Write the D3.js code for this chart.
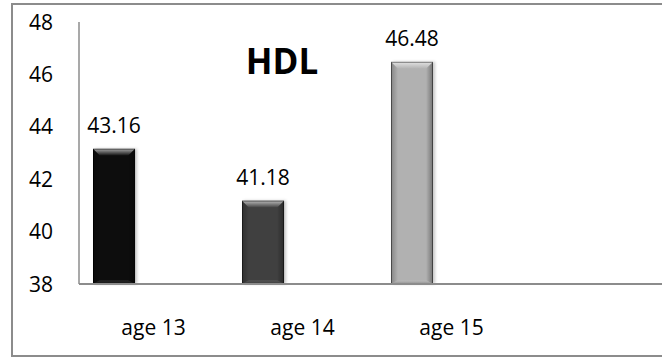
<!DOCTYPE html>
<html>
<head>
<meta charset="utf-8">
<script src="https://cdn.jsdelivr.net/npm/d3@7"></script>
<style>
  html, body { margin: 0; padding: 0; background: #fff; }
  svg { display: block; font-family: "Open Sans", "Noto Sans", sans-serif; }
</style>
</head>
<body>
<svg id="chart" width="662" height="358"></svg>
<script>
// HDL by age group
const categories = ["age 13", "age 14", "age 15"];
const values = [43.16, 41.18, 46.48];
const barColors = ["#070707", "#404040", "#b1b1b1"];
const yTicks = [38, 40, 42, 44, 46, 48];
const title = "HDL";

const svg = d3.select("#chart");
const defs = svg.append("defs");

const plot = { left: 79, top: 22, bottom: 284, right: 670 };

const y = d3.scaleLinear().domain([38, 48]).range([plot.bottom, plot.top]);
const x = d3.scaleBand().domain(categories).range([plot.left, plot.left + 3 * 149]);
const bw = x.bandwidth();
const barOffset = 0.094 * bw;
const barWidth = 0.282 * bw;

// outer frame
svg.append("rect")
  .attr("x", 12).attr("y", 4)
  .attr("width", 700).attr("height", 352)
  .attr("fill", "none").attr("stroke", "#8c8c8c").attr("stroke-width", 2);

// gradients for bevels
const topGrad = defs.append("linearGradient").attr("id", "bevelTop")
  .attr("x1", 0).attr("y1", 0).attr("x2", 0).attr("y2", 1);
topGrad.append("stop").attr("offset", 0).attr("stop-color", "#fff").attr("stop-opacity", 0.65);
topGrad.append("stop").attr("offset", 1).attr("stop-color", "#fff").attr("stop-opacity", 0.0);

const botGrad = defs.append("linearGradient").attr("id", "bevelBot")
  .attr("x1", 0).attr("y1", 1).attr("x2", 0).attr("y2", 0);
botGrad.append("stop").attr("offset", 0).attr("stop-color", "#000").attr("stop-opacity", 0.25);
botGrad.append("stop").attr("offset", 1).attr("stop-color", "#fff").attr("stop-opacity", 0.06);

const leftGrad = defs.append("linearGradient").attr("id", "bevelLeft")
  .attr("x1", 0).attr("y1", 0).attr("x2", 1).attr("y2", 0);
leftGrad.append("stop").attr("offset", 0).attr("stop-color", "#000").attr("stop-opacity", 0.25);
leftGrad.append("stop").attr("offset", 1).attr("stop-color", "#000").attr("stop-opacity", 0.0);

const rightGrad = defs.append("linearGradient").attr("id", "bevelRight")
  .attr("x1", 1).attr("y1", 0).attr("x2", 0).attr("y2", 0);
rightGrad.append("stop").attr("offset", 0).attr("stop-color", "#000").attr("stop-opacity", 0.35);
rightGrad.append("stop").attr("offset", 1).attr("stop-color", "#000").attr("stop-opacity", 0.0);

const shadow = defs.append("filter").attr("id", "barShadow")
  .attr("x", "-30%").attr("y", "-10%").attr("width", "160%").attr("height", "120%");
shadow.append("feDropShadow").attr("dx", 2).attr("dy", 0).attr("stdDeviation", 1.6)
  .attr("flood-color", "#000").attr("flood-opacity", 0.22);

// y axis
const yAxis = svg.append("g");
yAxis.append("line")
  .attr("x1", plot.left).attr("x2", plot.left)
  .attr("y1", y(48)).attr("y2", y(38))
  .attr("stroke", "#8c8c8c").attr("stroke-width", 1.5);
yAxis.selectAll("text").data(yTicks).join("text")
  .attr("x", 53).attr("y", d => y(d))
  .attr("dy", "0.36em")
  .attr("text-anchor", "end")
  .attr("font-size", 21)
  .attr("fill", "#000")
  .text(d => d);

// bars
const bars = svg.append("g").selectAll("g").data(categories).join("g");
bars.each(function (c, i) {
  const g = d3.select(this);
  const x0 = x(c) + barOffset;
  const x1 = x0 + barWidth;
  const y0 = y(values[i]);
  const y1 = y(38);
  const b = 7;
  const bb = 4;
  g.append("rect")
    .attr("x", x0).attr("y", y0)
    .attr("width", barWidth).attr("height", y1 - y0)
    .attr("fill", barColors[i])
    .attr("filter", "url(#barShadow)");
  g.append("path")
    .attr("d", `M${x0},${y0}L${x0 + b},${y0 + b}L${x0 + b},${y1 - bb}L${x0},${y1}Z`)
    .attr("fill", "url(#bevelLeft)");
  g.append("path")
    .attr("d", `M${x1},${y0}L${x1 - b},${y0 + b}L${x1 - b},${y1 - bb}L${x1},${y1}Z`)
    .attr("fill", "url(#bevelRight)");
  g.append("path")
    .attr("d", `M${x0},${y0}L${x1},${y0}L${x1 - b},${y0 + b}L${x0 + b},${y0 + b}Z`)
    .attr("fill", "url(#bevelTop)");
  g.append("path")
    .attr("d", `M${x0},${y1}L${x1},${y1}L${x1 - b},${y1 - bb}L${x0 + b},${y1 - bb}Z`)
    .attr("fill", "url(#bevelBot)");
  g.append("rect")
    .attr("x", x0 + 0.5).attr("y", y0 + 0.5)
    .attr("width", barWidth - 1).attr("height", y1 - y0 - 1)
    .attr("fill", "none")
    .attr("stroke", "#000").attr("stroke-opacity", 0.45).attr("stroke-width", 1);
  g.append("text")
    .attr("x", x0 + barWidth / 2).attr("y", y0 - 16)
    .attr("text-anchor", "middle")
    .attr("font-size", 21)
    .attr("fill", "#000")
    .text(values[i].toFixed(2));
});

// x axis
svg.append("line")
  .attr("x1", plot.left).attr("x2", plot.right)
  .attr("y1", y(38)).attr("y2", y(38))
  .attr("stroke", "#8c8c8c").attr("stroke-width", 2);
svg.append("g").selectAll("text").data(categories).join("text")
  .attr("x", d => x(d) + bw / 2).attr("y", 335)
  .attr("text-anchor", "middle")
  .attr("font-size", 21)
  .attr("fill", "#000")
  .text(d => d);

// title
svg.append("text")
  .attr("x", 282).attr("y", 74)
  .attr("text-anchor", "middle")
  .attr("font-size", 35)
  .attr("font-weight", "bold")
  .attr("fill", "#000")
  .text(title);
</script>
</body>
</html>
